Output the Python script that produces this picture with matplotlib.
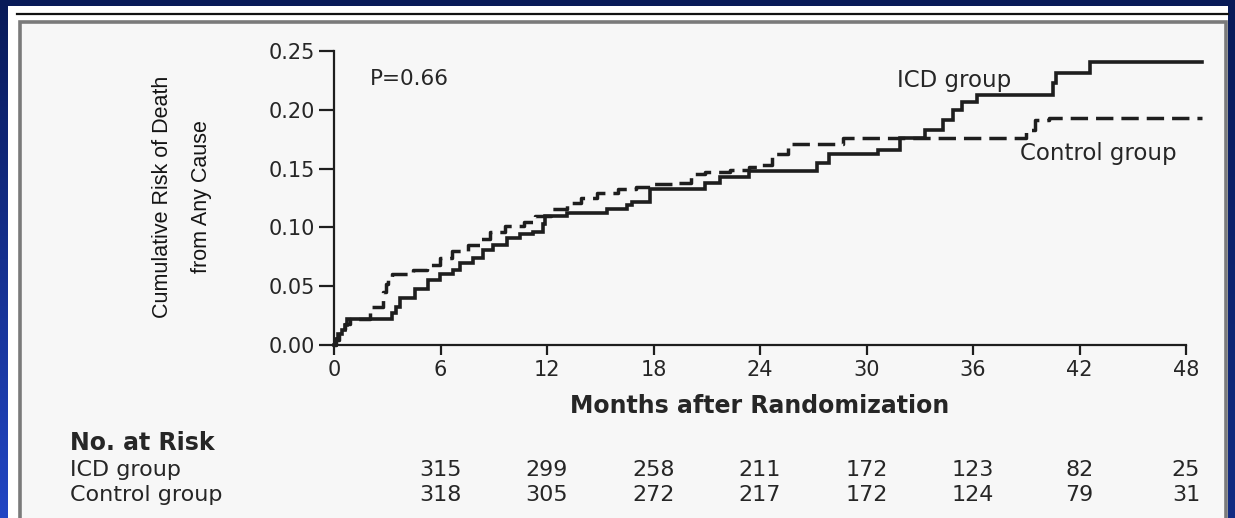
import numpy as np
import matplotlib
matplotlib.use("Agg")
import matplotlib.pyplot as plt
from matplotlib.patches import Rectangle
from matplotlib.lines import Line2D
from matplotlib import transforms

W, H = 1235, 518

# Kaplan-Meier style cumulative risk, ICD group (step starts at each time)
icd_months = [0.0, 0.11, 0.23, 0.45, 0.62, 0.73, 3.27, 3.5, 3.72, 4.56, 5.3, 5.97,
              6.7, 7.1, 7.83, 8.39, 8.96, 9.75, 10.48, 11.2, 11.8, 11.9, 13.1,
              15.4, 16.5, 16.8, 17.8, 20.9, 21.75, 23.4, 27.2, 27.9, 30.65, 31.9,
              33.3, 34.3, 34.9, 35.4, 36.2, 40.5, 40.7, 42.6]
icd_risk = [0.0, 0.005, 0.009, 0.013, 0.017, 0.022, 0.027, 0.032, 0.040, 0.048, 0.055, 0.060,
            0.064, 0.070, 0.074, 0.081, 0.085, 0.091, 0.094, 0.096, 0.103, 0.110, 0.112,
            0.116, 0.119, 0.122, 0.133, 0.138, 0.143, 0.148, 0.155, 0.162, 0.166, 0.176,
            0.183, 0.191, 0.200, 0.207, 0.213, 0.223, 0.231, 0.241]

# Control group
ctl_months = [0.0, 0.1, 0.3, 0.45, 0.62, 0.9, 2.0, 2.76, 2.93, 3.04, 3.27, 4.45, 5.24,
              5.97, 6.65, 7.55, 8.28, 8.8, 9.63, 10.7, 11.3, 12.2, 13.1, 13.9, 14.8,
              16.0, 17.0, 17.9, 19.2, 20.1, 20.9, 22.3, 23.4, 23.9, 24.7, 25.6, 28.7,
              39.0, 39.5, 40.3]
ctl_risk = [0.0, 0.004, 0.009, 0.014, 0.018, 0.022, 0.032, 0.045, 0.052, 0.057, 0.060, 0.064, 0.068,
            0.074, 0.080, 0.085, 0.090, 0.096, 0.101, 0.105, 0.110, 0.116, 0.121, 0.125, 0.129,
            0.133, 0.134, 0.137, 0.138, 0.145, 0.147, 0.149, 0.151, 0.153, 0.162, 0.171, 0.176,
            0.183, 0.191, 0.193]

follow_up_end = 48.9

risk_table_months = [6, 12, 18, 24, 30, 36, 42, 48]
icd_at_risk = [315, 299, 258, 211, 172, 123, 82, 25]
ctl_at_risk = [318, 305, 272, 217, 172, 124, 79, 31]

x_ticks = [0, 6, 12, 18, 24, 30, 36, 42, 48]
y_ticks = [0.00, 0.05, 0.10, 0.15, 0.20, 0.25]

INK = "#1e1e1e"
TXT = "#262626"


def fx(px):
    return px / W


def fy(py):
    return 1 - py / H


fig = plt.figure(figsize=(W / 100, H / 100), dpi=100)

# slide frame: blue gradient, white page, rule line and grey panel border
bg = fig.add_axes([0, 0, 1, 1])
bg.set_xlim(0, W)
bg.set_ylim(H, 0)
bg.axis("off")
gy = np.linspace(0, 1, 200)[:, None]
gx = np.linspace(0, 1, 200)[None, :]
navy = np.array([0x08, 0x1a, 0x58]) / 255
bright = np.array([0x22, 0x46, 0xc4]) / 255
t = np.clip(gy * (1.0 - 0.6 * gx), 0, 1)
grad = navy + (bright - navy) * t[..., None]
bg.imshow(grad, extent=(0, W, H, 0), aspect="auto", zorder=0)
bg.add_patch(Rectangle((8, 6), 1220, 530, fc="white", ec="none", zorder=1))
bg.add_line(Line2D([17, 1228], [14, 14], color="#111111", lw=1.6, zorder=2))
bg.add_patch(Rectangle((19.5, 22), 1206, 520, fc="#f7f7f7", ec="#7a7a7a", lw=2.6, zorder=2))

# main plot
ax = fig.add_axes([fx(334), fy(345), 852 / W, 294 / H])
ax.patch.set_alpha(0)
ax.set_xlim(0, 48)
ax.set_ylim(0, 0.25)

ax.step(icd_months + [follow_up_end], icd_risk + [icd_risk[-1]], where="post",
        color=INK, lw=2.6, clip_on=False, solid_joinstyle="miter", zorder=3)
ax.step(ctl_months + [follow_up_end], ctl_risk + [ctl_risk[-1]], where="post",
        color=INK, lw=2.5, ls=(0, (5, 2.3)), clip_on=False, zorder=3)

for side in ("top", "right"):
    ax.spines[side].set_visible(False)
for side in ("left", "bottom"):
    ax.spines[side].set_linewidth(1.6)
    ax.spines[side].set_color(INK)

ax.set_xticks(x_ticks)
ax.set_yticks(y_ticks)
ax.set_yticklabels([f"{v:.2f}" for v in y_ticks])
ax.tick_params(axis="y", direction="out", length=11, width=1.6, pad=3,
               labelsize=15, color=INK, labelcolor=TXT)
ax.tick_params(axis="x", direction="out", length=7, width=1.6, pad=4,
               labelsize=15, color=INK, labelcolor=TXT)

ax.set_xlabel("Months after Randomization", fontsize=17, fontweight="bold",
              color=TXT, labelpad=10)

# two-line vertical axis title
ylab_font = dict(rotation=90, ha="center", va="center", fontsize=15.5,
                 color="#151515", family="Liberation Sans")
fig.text(fx(162), fy(197), "Cumulative Risk of Death", **ylab_font)
fig.text(fx(202), fy(197), "from Any Cause", **ylab_font)

fig.text(fx(370), fy(79), "P=0.66", ha="left", va="center", fontsize=15.5, color=TXT)

ax.text(31.7, 0.225, "ICD group", ha="left", va="center", fontsize=16.5, color=TXT)
ax.text(38.65, 0.163, "Control group", ha="left", va="center", fontsize=16.5, color=TXT)

# numbers at risk
fig.text(fx(70), fy(443), "No. at Risk", ha="left", va="center", fontsize=17,
         fontweight="bold", color=TXT)
fig.text(fx(70), fy(470), "ICD group", ha="left", va="center", fontsize=16, color=TXT)
fig.text(fx(70), fy(495), "Control group", ha="left", va="center", fontsize=16, color=TXT)

row_tf = transforms.blended_transform_factory(ax.transData, fig.transFigure)
for m, a, b in zip(risk_table_months, icd_at_risk, ctl_at_risk):
    ax.text(m, fy(470), str(a), transform=row_tf, ha="center", va="center",
            fontsize=16, color=TXT, clip_on=False)
    ax.text(m, fy(495), str(b), transform=row_tf, ha="center", va="center",
            fontsize=16, color=TXT, clip_on=False)

fig.savefig("out.png", dpi=100)
